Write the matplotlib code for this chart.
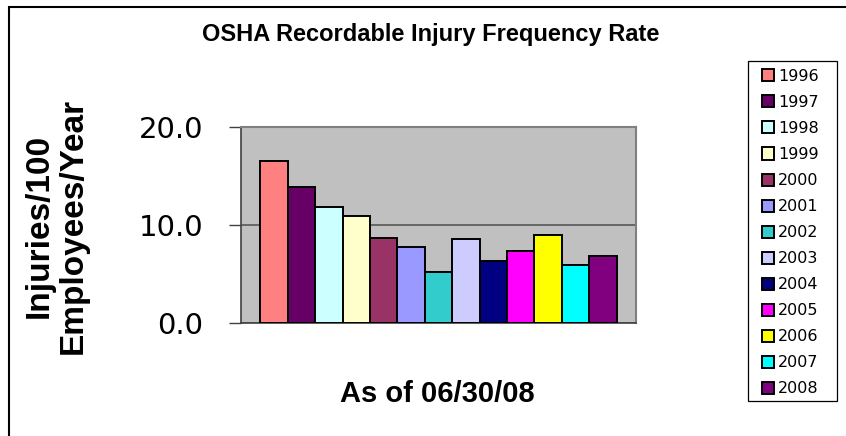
import matplotlib
matplotlib.use("Agg")
import matplotlib.pyplot as plt
from matplotlib.patches import Rectangle

# ---------- Data ----------
years = ["1996", "1997", "1998", "1999", "2000", "2001", "2002",
         "2003", "2004", "2005", "2006", "2007", "2008"]
rates = [16.5, 13.9, 11.8, 10.9, 8.7, 7.8, 5.2, 8.6, 6.3, 7.3, 9.0, 5.9, 6.8]
colors = ["#FF8080", "#660066", "#CCFFFF", "#FFFFCC", "#993366", "#9999FF",
          "#33CCCC", "#CCCCFF", "#000080", "#FF00FF", "#FFFF00", "#00FFFF",
          "#800080"]
yticks = [0, 10, 20]
ytick_labels = ["0.0", "10.0", "20.0"]

plt.rcParams['font.family'] = ['Liberation Sans', 'DejaVu Sans']

W, H = 846, 436
fig = plt.figure(figsize=(W / 100, H / 100), dpi=100)

# plot area in pixel coords
left, right, top, bottom = 241, 636, 127, 323
ax = fig.add_axes([left / W, 1 - bottom / H, (right - left) / W, (bottom - top) / H])
ax.set_facecolor("#C0C0C0")

handles = []
for i, (yr, val, col) in enumerate(zip(years, rates, colors)):
    b = ax.bar(i, val, width=1.0, color=col, edgecolor="black", linewidth=1.4,
               label=yr, zorder=3)
    handles.append(b)

ax.set_xlim(-0.5 - 0.71, len(years) - 0.5 + 0.71)
ax.set_ylim(0, 20)
ax.set_yticks(yticks)
ax.set_yticklabels(ytick_labels, fontsize=21, family="DejaVu Sans")
ax.set_xticks([])
ax.tick_params(axis="y", length=9, width=1, color="#404040", pad=18)
ax.yaxis.grid(True, color="#606060", linewidth=1.3, zorder=1)
ax.set_axisbelow(True)
for side in ["top", "right"]:
    ax.spines[side].set_color("#808080")
    ax.spines[side].set_linewidth(1.5)
ax.spines["left"].set_color("#404040")
ax.spines["bottom"].set_color("#404040")
ax.spines["left"].set_linewidth(1.2)
ax.spines["bottom"].set_linewidth(1.2)

# ---------- Texts ----------
fig.text(431 / W, 1 - 35 / H, "OSHA Recordable Injury Frequency Rate",
         ha="center", va="center", fontsize=17, fontweight="bold")
fig.text(437 / W, 1 - 394 / H, "As of 06/30/08", ha="center", va="center",
         fontsize=21, fontweight="bold")
fig.text(56 / W, 1 - 226 / H, "Injuries/100\nEmployees/Year", rotation=90,
         ha="center", va="center", multialignment="center",
         fontsize=24, fontweight="bold", linespacing=1.12)

# ---------- Legend ----------
leg = fig.legend(handles=handles, labels=years, loc="upper left",
                 bbox_to_anchor=(762 / W, 1 - 69 / H),
                 prop={"family": "DejaVu Sans", "size": 11.5},
                 handlelength=0.78, handleheight=0.78, handletextpad=0.22,
                 labelspacing=0.69, borderpad=0, borderaxespad=0,
                 frameon=False)
fig.patches.append(Rectangle((748 / W, 1 - 401 / H), (837 - 748) / W, (401 - 61) / H,
                             transform=fig.transFigure, fill=False,
                             edgecolor="black", linewidth=0.9))

# ---------- Outer border ----------
fig.patches.append(Rectangle((9 / W, -0.1), 1.2, 1 - 7 / H + 0.1,
                             transform=fig.transFigure, fill=False,
                             edgecolor="black", linewidth=1.5))

fig.savefig("out.png", dpi=100)
